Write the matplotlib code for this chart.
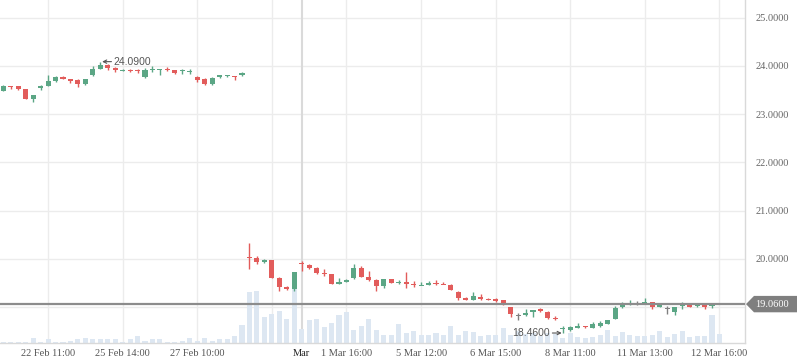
import matplotlib
matplotlib.use('Agg')
import matplotlib.pyplot as plt
import matplotlib.transforms as mtrans
from matplotlib.patches import Polygon
import numpy as np

# ---------------- data ----------------
opens = [23.49, 23.59, 23.58, 23.53, 23.32, 23.54, 23.59, 23.69, 23.77, 23.73,
         23.70, 23.62, 23.81, 23.94, 24.02, 23.96, 23.91, 23.92, 23.91, 23.77,
         23.91, 23.92, 23.94, 23.92, 23.89, 23.88, 23.77, 23.73, 23.63, 23.77,
         23.79, 23.79, 23.81,
         20.04, 20.02, 19.94, 19.98, 19.61, 19.42, 19.37, 19.92, 19.87, 19.81,
         19.71, 19.69, 19.48, 19.52, 19.61, 19.81, 19.62, 19.57, 19.44, 19.58,
         19.50, 19.52, 19.47, 19.45, 19.46, 19.50, 19.48, 19.46, 19.31, 19.19,
         19.15, 19.21, 19.17, 19.15, 19.14, 18.99, 18.83, 18.84, 18.90, 18.95,
         18.90, 18.77, 18.55, 18.53, 18.57, 18.61, 18.57, 18.61, 18.65, 18.76,
         18.99, 19.07, 19.08, 19.08, 19.10, 18.99, 18.96, 18.90, 19.02, 19.08,
         19.02, 19.04, 19.02, 19.06]
highs = [23.61, 23.59, 23.58, 23.53, 23.40, 23.61, 23.81, 23.79, 23.79, 23.73,
         23.72, 23.73, 23.99, 24.09, 24.04, 23.98, 23.94, 23.94, 23.94, 23.95,
         23.99, 23.94, 23.98, 23.92, 23.94, 23.94, 23.80, 23.76, 23.77, 23.81,
         23.82, 23.79, 23.88,
         20.33, 20.06, 20.00, 19.98, 19.63, 19.44, 19.73, 19.95, 19.89, 19.83,
         19.79, 19.69, 19.60, 19.59, 19.89, 19.85, 19.75, 19.58, 19.58, 19.58,
         19.55, 19.73, 19.54, 19.52, 19.53, 19.55, 19.52, 19.48, 19.34, 19.21,
         19.32, 19.26, 19.18, 19.18, 19.15, 18.99, 18.88, 18.96, 18.94, 18.97,
         18.92, 18.81, 18.61, 18.61, 18.67, 18.61, 18.69, 18.71, 18.74, 19.03,
         19.10, 19.15, 19.12, 19.18, 19.10, 19.04, 19.02, 18.99, 19.10, 19.08,
         19.07, 19.07, 19.05, 19.06]
lows = [23.48, 23.53, 23.50, 23.32, 23.26, 23.50, 23.59, 23.66, 23.72, 23.65,
        23.56, 23.61, 23.80, 23.93, 23.92, 23.88, 23.90, 23.87, 23.86, 23.76,
        23.87, 23.81, 23.90, 23.83, 23.83, 23.83, 23.67, 23.61, 23.61, 23.76,
        23.77, 23.71, 23.79,
        19.79, 19.90, 19.92, 19.61, 19.33, 19.36, 19.34, 19.75, 19.79, 19.68,
        19.65, 19.48, 19.48, 19.52, 19.59, 19.62, 19.54, 19.34, 19.40, 19.50,
        19.47, 19.40, 19.42, 19.45, 19.46, 19.46, 19.47, 19.35, 19.15, 19.14,
        19.15, 19.15, 19.15, 19.11, 19.05, 18.80, 18.72, 18.82, 18.80, 18.89,
        18.75, 18.74, 18.46, 18.51, 18.57, 18.56, 18.57, 18.59, 18.64, 18.76,
        18.98, 19.04, 19.04, 19.08, 18.96, 18.99, 18.86, 18.84, 18.95, 18.99,
        18.99, 18.96, 18.97, 19.06]
closes = [23.59, 23.56, 23.52, 23.32, 23.40, 23.58, 23.69, 23.77, 23.73, 23.69,
          23.62, 23.73, 23.94, 24.02, 23.96, 23.91, 23.92, 23.90, 23.89, 23.91,
          23.93, 23.94, 23.92, 23.86, 23.91, 23.90, 23.71, 23.63, 23.76, 23.81,
          23.80, 23.78, 23.86,
          20.02, 19.94, 19.98, 19.61, 19.42, 19.37, 19.72, 19.90, 19.81, 19.71,
          19.68, 19.48, 19.52, 19.57, 19.81, 19.63, 19.56, 19.44, 19.58, 19.50,
          19.52, 19.48, 19.46, 19.46, 19.50, 19.48, 19.47, 19.36, 19.19, 19.15,
          19.23, 19.17, 19.16, 19.14, 19.07, 18.85, 18.83, 18.88, 18.94, 18.91,
          18.77, 18.75, 18.57, 18.59, 18.61, 18.59, 18.64, 18.66, 18.72, 18.98,
          19.06, 19.08, 19.08, 19.10, 18.99, 19.04, 18.96, 18.99, 19.08, 18.99,
          19.04, 18.99, 19.04, 19.06]
volumes = [1500, 1500, 1500, 1500, 5000, 1500, 4000, 1500, 1500, 2500,
           4000, 5000, 4000, 4000, 4500, 4000, 1500, 4000, 7000, 2500,
           4000, 4000, 1500, 1500, 2500, 5000, 2500, 5000, 2500, 4000,
           4000, 7000, 18500,
           51000, 52000, 26500, 29500, 32500, 24500, 63000, 14500, 23500, 24500,
           16500, 20500, 28500, 31500, 13500, 17500, 24500, 13500, 8500, 8500,
           19500, 10500, 12500, 8500, 8500, 10500, 8500, 17500, 8500, 12500,
           11500, 7500, 8500, 8500, 15500, 8500, 12500, 9500, 10500, 7500,
           10500, 9500, 5500, 10500, 6500, 5500, 6500, 8500, 13500, 7500,
           11500, 8500, 7500, 7500, 8500, 12500, 6500, 9500, 12500, 6500,
           7500, 7500, 28500, 9500]

tick_pos = [6, 16, 26, 40, 46, 56, 66, 76, 86, 96]
tick_labels = ['22 Feb 11:00', '25 Feb 14:00', '27 Feb 10:00', 'Mar', '1 Mar 16:00',
               '5 Mar 12:00', '6 Mar 15:00', '8 Mar 11:00', '11 Mar 13:00', '12 Mar 16:00']
grid_pos = [6, 16, 26, 36, 46, 56, 66, 76, 86, 96]
month_pos = 40
price_grid = [19, 20, 21, 22, 23, 24, 25]
price_ticks = [20, 21, 22, 23, 24, 25]
last_price = 19.06
max_idx, max_price = 13, 24.09
min_idx, min_price = 75, 18.46

# ---------------- styling ----------------
plt.rcParams['font.family'] = ['Liberation Serif', 'DejaVu Serif']
UP = '#5ba685'
DOWN = '#e25c5b'
FLAT = '#808080'
VOL = '#dde7f2'
GRID = '#ececec'
VOL_TOP = 343000  # volume value mapped to the top of the plot

fig = plt.figure(figsize=(7.98, 3.63), dpi=100)
ax = fig.add_axes([0, 20 / 363, 745 / 798, 343 / 363])

idx = np.arange(len(opens))
o = np.array(opens); h = np.array(highs); l = np.array(lows); c = np.array(closes)
v = np.array(volumes, dtype=float)

# grid
for g in price_grid:
    ax.axhline(g, color=GRID, lw=1, zorder=0)
for g in grid_pos:
    ax.axvline(g, color=GRID, lw=1, zorder=0)
ax.axvline(month_pos, color='#dadada', lw=1.5, zorder=0)

# volume bars (bottom band)
blend = mtrans.blended_transform_factory(ax.transData, ax.transAxes)
ax.bar(idx, v / VOL_TOP, width=0.68, bottom=0, color=VOL, transform=blend,
       zorder=1, linewidth=0)

# candles
cols = [UP if cc > oo else (DOWN if cc < oo else FLAT) for oo, cc in zip(o, c)]
ax.vlines(idx, l, h, colors=cols, lw=1, zorder=3)
body_h = np.abs(c - o)
min_h = 0.022
bottoms = np.where(body_h < min_h, (o + c) / 2 - min_h / 2, np.minimum(o, c))
heights = np.maximum(body_h, min_h)
ax.bar(idx, heights, width=0.68, bottom=bottoms, color=cols, zorder=4, linewidth=0)

# last price line
ax.axhline(last_price, color='#8c8c8c', lw=1.6, zorder=5)

ax.set_xlim(-0.44, 99.42)
ax.set_ylim(18.253, 25.369)

# axes styling
for s in ['top', 'left']:
    ax.spines[s].set_visible(False)
for s in ['right', 'bottom']:
    ax.spines[s].set_color('#d9d9d9')
    ax.spines[s].set_linewidth(1)

ax.yaxis.tick_right()
ax.set_yticks(price_ticks)
ax.set_yticklabels(['%.4f' % t for t in price_ticks])
ax.tick_params(axis='y', length=0, pad=7.5, labelsize=7.5, labelcolor='#666666')
ax.set_xticks(tick_pos)
ax.set_xticklabels(tick_labels)
ax.tick_params(axis='x', length=0, pad=4, labelsize=7.5, labelcolor='#555555')
ax.get_xticklabels()[3].set_color('#222222')

# high / low annotations (arrow + value)
sans = ['DejaVu Sans']
ax.annotate('', xy=(max_idx + 0.25, max_price), xytext=(max_idx + 1.5, max_price),
            arrowprops=dict(arrowstyle='->', color='#555555', lw=0.8,
                            shrinkA=0, shrinkB=0, mutation_scale=6), zorder=6)
ax.text(max_idx + 1.8, max_price, '%.4f' % max_price, ha='left', va='center',
        fontsize=7.5, color='#555555', family=['Liberation Sans', 'DejaVu Sans'], zorder=6)
ax.annotate('', xy=(min_idx - 0.15, min_price), xytext=(min_idx - 1.4, min_price),
            arrowprops=dict(arrowstyle='->', color='#555555', lw=0.8,
                            shrinkA=0, shrinkB=0, mutation_scale=6), zorder=6)
ax.text(min_idx - 1.75, min_price, '%.4f' % min_price, ha='right', va='center',
        fontsize=7.5, color='#555555', family=['Liberation Sans', 'DejaVu Sans'], zorder=6)

# last price label box
blend2 = mtrans.blended_transform_factory(fig.transFigure, ax.transData)
hh = 0.17
pts = [(746 / 798, last_price), (754 / 798, last_price + hh), (797 / 798, last_price + hh),
       (797 / 798, last_price - hh), (754 / 798, last_price - hh)]
fig.add_artist(Polygon(pts, closed=True, transform=blend2, facecolor='#7f7f7f',
                       edgecolor='none', clip_on=False, zorder=10))
fig.text(772 / 798, last_price, '%.4f' % last_price, transform=blend2, ha='center',
         va='center', fontsize=7.5, color='white', zorder=11)

fig.savefig('out.png', dpi=100)
